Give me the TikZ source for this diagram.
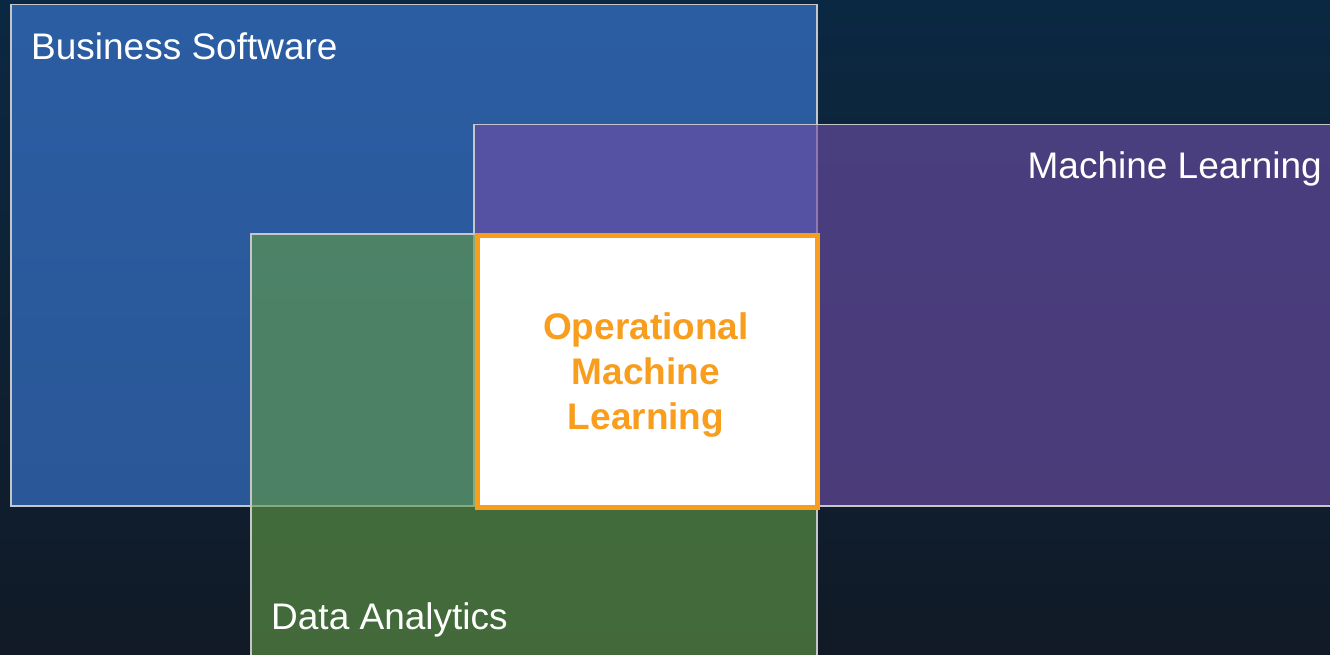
\documentclass[tikz,border=0pt]{standalone}
\usepackage{fontspec}
\setmainfont{Liberation Sans}
\usepackage{xcolor}
\usetikzlibrary{positioning}
\definecolor{bgtop}{RGB}{11,40,66}
\definecolor{bgbot}{RGB}{17,26,38}
\definecolor{bstop}{RGB}{43,93,163}
\definecolor{bsbot}{RGB}{42,87,151}
\definecolor{mlfill}{RGB}{110,77,166}
\definecolor{dafill}{RGB}{98,155,70}
\definecolor{edge}{RGB}{196,198,202}
\definecolor{omlorange}{RGB}{248,157,28}
\tikzset{
  area/.style={draw=edge, line width=1.5pt, anchor=north west, inner sep=0pt},
  lbl/.style={text=white, font=\fontsize{37}{45}\selectfont, inner sep=0pt},
}
\begin{document}
\begin{tikzpicture}[x=1pt,y=-1pt]
\useasboundingbox (0,0) rectangle (1330,655);
\clip (0,0) rectangle (1330,655);
\shade[top color=bgtop, bottom color=bgbot] (0,0) rectangle (1330,655);
\node[area, top color=bstop, bottom color=bsbot, minimum width=806pt, minimum height=501pt] (bs) at (10,4) {};
\node[area, fill=mlfill, fill opacity=0.63, minimum width=900pt, minimum height=381pt] (ml) at (473,124) {};
\node[area, fill=dafill, fill opacity=0.62, minimum width=566pt, minimum height=450pt] (da) at (250,233) {};
\node[draw=omlorange, line width=4.5pt, fill=white, anchor=north west, inner sep=0pt,
  minimum width=340pt, minimum height=272pt] (oml) at (475,233) {};
\node[lbl, anchor=base west] (bslabel) at (31,60) {Business Software};
\node[lbl, anchor=base east] (mllabel) at (1322,179) {Machine Learning};
\node[lbl, anchor=base west] (dalabel) at (271,629) {Data Analytics};
\node[text=omlorange, align=center, font=\bfseries\fontsize{37}{45}\selectfont, inner sep=0pt] (omllabel) at (646,375) {Operational\\Machine\\Learning};
\end{tikzpicture}
\end{document}
